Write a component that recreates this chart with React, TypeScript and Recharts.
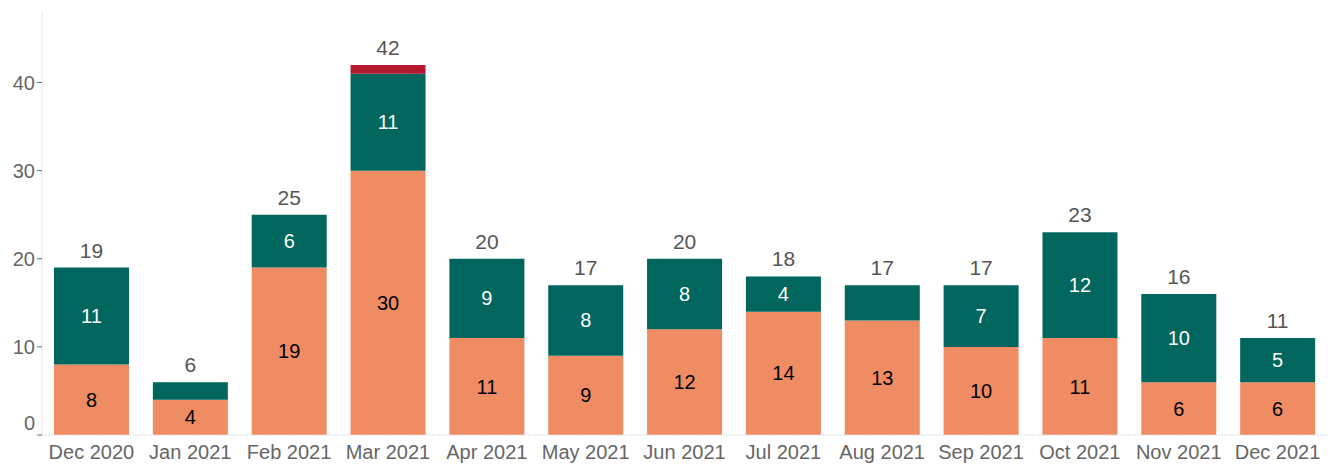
import { Bar, BarChart, LabelList, XAxis, YAxis } from "recharts";

const months = [
  "Dec 2020", "Jan 2021", "Feb 2021", "Mar 2021", "Apr 2021", "May 2021", "Jun 2021",
  "Jul 2021", "Aug 2021", "Sep 2021", "Oct 2021", "Nov 2021", "Dec 2021",
];
const orangeValues = [8, 4, 19, 30, 11, 9, 12, 14, 13, 10, 11, 6, 6];
const greenValues = [11, 2, 6, 11, 9, 8, 8, 4, 4, 7, 12, 10, 5];
const redValues = [0, 0, 0, 1, 0, 0, 0, 0, 0, 0, 0, 0, 0];
const hiddenGreenLabels = ["Jan 2021", "Aug 2021"];
const yTicks = [0, 10, 20, 30, 40];

const FONT = "'Liberation Sans', Arial, sans-serif";

const data = months.map((month, i) => ({
  month,
  orange: orangeValues[i],
  green: greenValues[i],
  red: redValues[i],
  total: orangeValues[i] + greenValues[i] + redValues[i],
}));

function YTick(props: any) {
  const { x, y, payload } = props;
  const dy = payload.value === 0 ? -5 : 7;
  return (
    <text x={x} y={y + dy} textAnchor="end" fill="#666" fontSize={20} fontFamily={FONT}>
      {payload.value}
    </text>
  );
}

// total sits on top of the green segment plus whatever red is stacked above it
function TotalLabel(props: any) {
  const { x, y, width, height, index } = props;
  const row = data[index];
  const unit = height / row.green;
  const top = y - row.red * unit;
  return (
    <text
      x={x + width / 2}
      y={top - 10}
      textAnchor="middle"
      fill="#555"
      fontSize={21}
      fontFamily={FONT}
    >
      {row.total}
    </text>
  );
}

function GreenLabel(props: any) {
  const { x, y, width, height, index, value } = props;
  if (hiddenGreenLabels.includes(data[index].month)) return null;
  return (
    <text
      x={x + width / 2}
      y={y + height / 2 + 7}
      textAnchor="middle"
      fill="#fff"
      fontSize={20}
      fontFamily={FONT}
    >
      {value}
    </text>
  );
}

function OrangeLabel(props: any) {
  const { x, y, width, height, value } = props;
  return (
    <text
      x={x + width / 2}
      y={y + height / 2 + 7}
      textAnchor="middle"
      fill="#000"
      fontSize={20}
      fontFamily={FONT}
    >
      {value}
    </text>
  );
}

export default function App() {
  return (
    <div style={{ position: "absolute", left: 0, top: 0, background: "#fff" }}>
      <BarChart
        width={1332}
        height={464}
        data={data}
        margin={{ top: 12, right: 5, left: 0, bottom: 0 }}
        barCategoryGap={12}
      >
        <XAxis
          dataKey="month"
          tickLine={false}
          axisLine={{ stroke: "#ddd", strokeDasharray: "2 1" }}
          height={29}
          interval={0}
          tick={{ fill: "#666", fontSize: 20, fontFamily: FONT, dy: 2 }}
        />
        <YAxis
          width={42}
          domain={[0, 48]}
          ticks={yTicks}
          axisLine={{ stroke: "#e6e6e6" }}
          tickLine={{ stroke: "#666" }}
          tickSize={5}
          tick={<YTick />}
        />
        <Bar dataKey="orange" stackId="a" fill="#F08C64" isAnimationActive={false}>
          <LabelList dataKey="orange" content={<OrangeLabel />} />
        </Bar>
        <Bar dataKey="green" stackId="a" fill="#00665E" isAnimationActive={false}>
          <LabelList dataKey="green" content={<GreenLabel />} />
          <LabelList dataKey="total" content={<TotalLabel />} />
        </Bar>
        <Bar dataKey="red" stackId="a" fill="#B5192F" isAnimationActive={false} />
      </BarChart>
    </div>
  );
}
